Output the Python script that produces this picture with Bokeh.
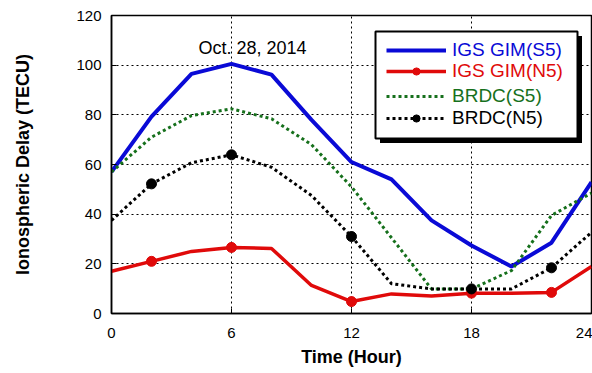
from bokeh.plotting import figure
from bokeh.models import Legend, LegendItem, Label, BoxAnnotation, Range1d, FixedTicker
from bokeh.embed import file_html
from bokeh.resources import INLINE

# ---------------- data ----------------
HOURS = [0, 2, 4, 6, 8, 10, 12, 14, 16, 18, 20, 22, 24]
IGS_GIM_S5 = [57.0, 79.3, 96.5, 100.5, 96.2, 78.0, 61.0, 54.0, 37.5, 27.4, 18.9, 28.5, 52.9]
IGS_GIM_N5 = [17.0, 21.0, 25.0, 26.6, 26.2, 11.3, 4.8, 7.9, 7.0, 8.2, 8.2, 8.5, 18.9]
BRDC_S5 = [57.0, 71.0, 79.7, 82.4, 78.4, 68.0, 51.0, 30.5, 9.9, 9.9, 17.3, 39.5, 48.5]
BRDC_N5 = [37.5, 52.2, 60.7, 63.9, 58.9, 47.5, 31.0, 12.0, 9.9, 9.9, 9.9, 18.4, 32.7]
MARKER_HOURS = [2, 6, 12, 18, 22]

X_TICKS = [0, 6, 12, 18, 24]
Y_TICKS = [0, 20, 40, 60, 80, 100, 120]
SERIES_NAMES = ["IGS GIM(S5)", "IGS GIM(N5)", "BRDC(S5)", "BRDC(N5)"]
TITLE_TEXT = "Oct. 28, 2014"
X_LABEL = "Time (Hour)"
Y_LABEL = "Ionospheric Delay (TECU)"

# ---------------- style ----------------
FONT = "Liberation Sans"
BLUE = "#0a0ad6"
RED = "#e00a0a"
GREEN = "#16701c"
BLACK = "#000000"

W, H = 592, 373
FRAME_W, FRAME_H = 480, 298

p = figure(width=W, height=H, output_backend="svg", toolbar_location=None,
           x_range=Range1d(0, 24), y_range=Range1d(0, 120),
           min_border_left=111, min_border_right=1, min_border_top=15, min_border_bottom=60)
p.frame_width = FRAME_W
p.frame_height = FRAME_H

p.outline_line_color = "black"
p.outline_line_width = 1.5
p.outline_line_alpha = 1.0

for ax in (p.xaxis[0], p.yaxis[0]):
    ax.axis_line_color = "black"
    ax.axis_line_width = 1.5
    ax.major_tick_in = 5
    ax.major_tick_out = 0
    ax.minor_tick_in = 0
    ax.minor_tick_out = 0
    ax.major_label_text_font = FONT
    ax.major_label_text_font_size = "15px"
    ax.major_label_text_color = "black"
    ax.axis_label_text_font = FONT
    ax.axis_label_text_font_size = "18px"
    ax.axis_label_text_font_style = "bold"
    ax.axis_label_text_color = "black"

p.xaxis.ticker = FixedTicker(ticks=X_TICKS)
p.yaxis.ticker = FixedTicker(ticks=Y_TICKS)
p.xaxis.axis_label = X_LABEL
p.yaxis.axis_label = Y_LABEL
p.xaxis.major_label_standoff = 14
p.xaxis.axis_label_standoff = 6
p.yaxis.major_label_standoff = 10
p.yaxis.axis_label_standoff = 40

for g in (p.xgrid[0], p.ygrid[0]):
    g.grid_line_color = "black"
    g.grid_line_dash = "2 3"
    g.grid_line_width = 1
    g.grid_line_alpha = 1.0

# ---------------- series ----------------
def pick(series):
    return [series[HOURS.index(h)] for h in MARKER_HOURS]

r_blue = p.line(HOURS, IGS_GIM_S5, line_color=BLUE, line_width=4)
r_red = p.line(HOURS, IGS_GIM_N5, line_color=RED, line_width=3.5)
r_red_m = p.scatter(MARKER_HOURS, pick(IGS_GIM_N5), marker="circle", size=10,
                    fill_color=RED, line_color=RED)
r_green = p.line(HOURS, BRDC_S5, line_color=GREEN, line_width=3, line_dash="3 3")
r_black = p.line(HOURS, BRDC_N5, line_color=BLACK, line_width=3, line_dash="3 3")
r_black_m = p.scatter(MARKER_HOURS, pick(BRDC_N5), marker="circle", size=10,
                      fill_color=BLACK, line_color=BLACK)

# ---------------- annotation text ----------------
p.add_layout(Label(x=7.05, y=107, text=TITLE_TEXT, text_align="center",
                   text_baseline="middle", text_font=FONT, text_font_size="18px",
                   text_color="black"))

# ---------------- legend box with shadow ----------------
XPX = 24 / FRAME_W
YPX = 120 / FRAME_H
BOX_L, BOX_R, BOX_T, BOX_B = 264, 466, 282, 175   # px within frame (from left / from bottom)
SH = 4.5
p.add_layout(BoxAnnotation(left=(BOX_L + SH) * XPX, right=(BOX_R + SH) * XPX,
                           top=(BOX_T - SH) * YPX, bottom=(BOX_B - SH) * YPX,
                           fill_color="black", fill_alpha=1.0, line_color=None))
p.add_layout(BoxAnnotation(left=BOX_L * XPX, right=BOX_R * XPX,
                           top=BOX_T * YPX, bottom=BOX_B * YPX,
                           fill_color="white", fill_alpha=1.0,
                           line_color="black", line_width=2, line_alpha=1.0))

entries = [
    (SERIES_NAMES[0], [r_blue], BLUE, 252),
    (SERIES_NAMES[1], [r_red, r_red_m], RED, 231),
    (SERIES_NAMES[2], [r_green], GREEN, 206),
    (SERIES_NAMES[3], [r_black, r_black_m], BLACK, 184),
]
for name, rends, col, ypos in entries:
    lg = Legend(items=[LegendItem(label=name, renderers=rends)], location=(275, ypos),
                padding=0, margin=0, spacing=0, glyph_width=60, glyph_height=18,
                label_height=18, label_standoff=6, border_line_color=None,
                background_fill_alpha=0.0, label_text_font=FONT,
                label_text_font_size="19px", label_text_color=col)
    p.add_layout(lg)

open("out.html", "w").write(file_html(p, INLINE))
